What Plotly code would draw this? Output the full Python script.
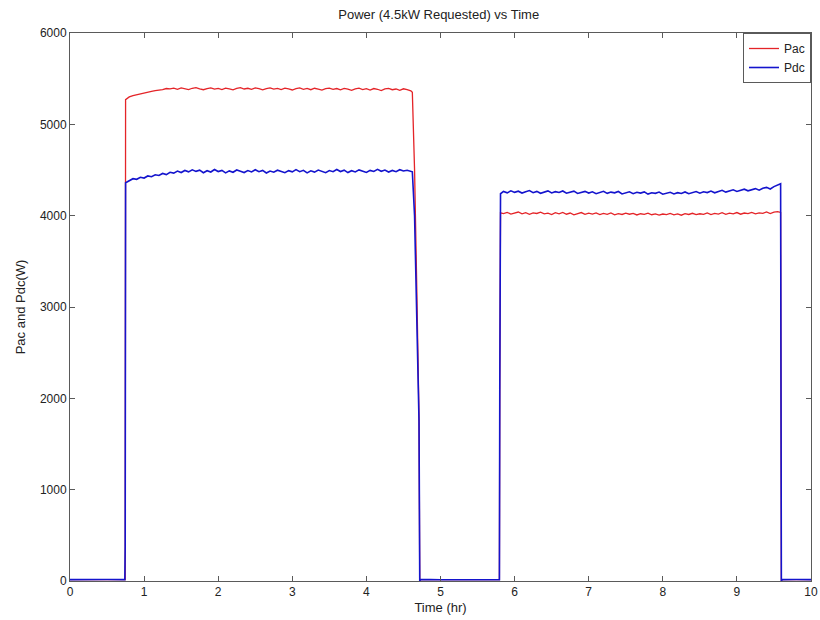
import plotly.graph_objects as go

# --- Time (hr) samples -------------------------------------------------------
t_off1 = [0.0, 0.25, 0.5, 0.74, 0.745]
t_run1 = [0.75, 0.80, 0.85, 0.90, 0.95, 1.00, 1.05, 1.10, 1.15, 1.20, 1.25, 1.30,
          1.35, 1.40, 1.45, 1.50, 1.55, 1.60, 1.65, 1.70, 1.75, 1.80, 1.85, 1.90,
          1.95, 2.00, 2.05, 2.10, 2.15, 2.20, 2.25, 2.30, 2.35, 2.40, 2.45, 2.50,
          2.55, 2.60, 2.65, 2.70, 2.75, 2.80, 2.85, 2.90, 2.95, 3.00, 3.05, 3.10,
          3.15, 3.20, 3.25, 3.30, 3.35, 3.40, 3.45, 3.50, 3.55, 3.60, 3.65, 3.70,
          3.75, 3.80, 3.85, 3.90, 3.95, 4.00, 4.05, 4.10, 4.15, 4.20, 4.25, 4.30,
          4.35, 4.40, 4.45, 4.50, 4.55, 4.60]
t_ramp = [4.62, 4.65, 4.68, 4.71, 4.72]
t_off2 = [4.73, 5.00, 5.30, 5.60, 5.795, 5.80]
t_run2 = [5.81, 5.85, 5.90, 5.95, 6.00, 6.05, 6.10, 6.15, 6.20, 6.25, 6.30, 6.35,
          6.40, 6.45, 6.50, 6.55, 6.60, 6.65, 6.70, 6.75, 6.80, 6.85, 6.90, 6.95,
          7.00, 7.05, 7.10, 7.15, 7.20, 7.25, 7.30, 7.35, 7.40, 7.45, 7.50, 7.55,
          7.60, 7.65, 7.70, 7.75, 7.80, 7.85, 7.90, 7.95, 8.00, 8.05, 8.10, 8.15,
          8.20, 8.25, 8.30, 8.35, 8.40, 8.45, 8.50, 8.55, 8.60, 8.65, 8.70, 8.75,
          8.80, 8.85, 8.90, 8.95, 9.00, 9.05, 9.10, 9.15, 9.20, 9.25, 9.30, 9.35,
          9.40, 9.45, 9.50, 9.55, 9.59]
t_off3 = [9.60, 9.61, 9.80, 10.0]

# --- AC power (W) ------------------------------------------------------------
pac_off1 = [15, 18, 16, 15, 15]
pac_run1 = [5270, 5300, 5315, 5325, 5338, 5345, 5352, 5360, 5368, 5372, 5380, 5392,
            5388, 5396, 5384, 5398, 5390, 5380, 5395, 5402, 5388, 5379, 5392, 5400,
            5386, 5394, 5381, 5397, 5389, 5378, 5393, 5401, 5387, 5395, 5383, 5398,
            5390, 5377, 5392, 5399, 5385, 5394, 5380, 5396, 5388, 5376, 5391, 5399,
            5384, 5393, 5379, 5395, 5386, 5374, 5390, 5397, 5383, 5392, 5378, 5394,
            5385, 5372, 5389, 5396, 5381, 5390, 5376, 5392, 5384, 5370, 5388, 5394,
            5379, 5387, 5373, 5389, 5380, 5366]
pac_ramp = [5350, 4500, 3200, 1800, 0]
pac_off2 = [18, 14, 17, 15, 15, 2100]
pac_run2 = [4030, 4022, 4035, 4018, 4028, 4040, 4020, 4032, 4015, 4030, 4024, 4038,
            4019, 4027, 4012, 4033, 4021, 4036, 4016, 4029, 4010, 4025, 4034, 4014,
            4027, 4018, 4031, 4011, 4024, 4015, 4030, 4009, 4022, 4013, 4028, 4016,
            4025, 4008, 4021, 4014, 4027, 4010, 4020, 4006, 4018, 4012, 4024, 4009,
            4019, 4005, 4022, 4013, 4026, 4011, 4021, 4015, 4030, 4012, 4024, 4018,
            4032, 4014, 4027, 4020, 4034, 4016, 4029, 4022, 4036, 4019, 4031, 4025,
            4040, 4023, 4038, 4044, 4035]
pac_off3 = [0, 15, 16, 15]

# --- DC power (W) ------------------------------------------------------------
pdc_off1 = [15, 18, 16, 15, 380]
pdc_run1 = [4360, 4385, 4405, 4398, 4420, 4412, 4435, 4426, 4448, 4440, 4462, 4450,
            4475, 4466, 4488, 4472, 4495, 4480, 4502, 4485, 4498, 4470, 4492, 4478,
            4505, 4483, 4496, 4468, 4490, 4475, 4500, 4486, 4472, 4494, 4479, 4503,
            4481, 4495, 4467, 4489, 4476, 4498, 4484, 4470, 4493, 4480, 4504, 4482,
            4497, 4469, 4491, 4477, 4499, 4485, 4471, 4494, 4481, 4506, 4483, 4498,
            4472, 4492, 4479, 4501, 4487, 4473, 4496, 4484, 4507, 4486, 4499, 4478,
            4495, 4482, 4503, 4489, 4497, 4485]
pdc_ramp = [4480, 4000, 3000, 1750, 0]
pdc_off2 = [18, 14, 17, 15, 15, 2100]
pdc_run2 = [4240, 4265, 4250, 4272, 4255, 4268, 4248, 4262, 4275, 4252, 4266, 4245,
            4260, 4271, 4249, 4263, 4254, 4270, 4246, 4259, 4268, 4243, 4257, 4266,
            4248, 4261, 4240, 4256, 4267, 4244, 4258, 4250, 4265, 4238, 4254, 4262,
            4241, 4256, 4247, 4260, 4236, 4251, 4244, 4258, 4235, 4249, 4256, 4238,
            4252, 4243, 4260, 4240, 4255, 4264, 4246, 4262, 4253, 4270, 4250, 4266,
            4278, 4258, 4274, 4283, 4265, 4281, 4290, 4272, 4288, 4296, 4279, 4300,
            4310, 4292, 4318, 4335, 4350]
pdc_off3 = [0, 15, 16, 15]

time_hr = t_off1 + t_run1 + t_ramp + t_off2 + t_run2 + t_off3
pac = pac_off1 + pac_run1 + pac_ramp + pac_off2 + pac_run2 + pac_off3
pdc = pdc_off1 + pdc_run1 + pdc_ramp + pdc_off2 + pdc_run2 + pdc_off3

x_ticks = [0, 1, 2, 3, 4, 5, 6, 7, 8, 9, 10]
y_ticks = [0, 1000, 2000, 3000, 4000, 5000, 6000]

FONT = "Liberation Sans, Arial, sans-serif"
AXIS_COLOR = "#5a5a5a"

fig = go.Figure()
fig.add_trace(go.Scatter(x=time_hr, y=pac, mode="lines", name="Pac",
                         line=dict(color="rgb(228,36,40)", width=1.3)))
fig.add_trace(go.Scatter(x=time_hr, y=pdc, mode="lines", name="Pdc",
                         line=dict(color="rgb(20,20,205)", width=1.6)))

axis_common = dict(
    showline=True, linecolor=AXIS_COLOR, linewidth=1, mirror="ticks",
    ticks="inside", ticklen=5, tickcolor=AXIS_COLOR, tickwidth=1,
    showgrid=False, zeroline=False, automargin=False,
    tickfont=dict(family=FONT, size=12, color="#222"),
)

fig.update_layout(
    width=820, height=620,
    margin=dict(l=70, r=9, t=33, b=39),
    paper_bgcolor="white", plot_bgcolor="white",
    title=dict(text="Power (4.5kW Requested) vs Time", x=0.535, xanchor="center",
               y=0.977, yanchor="middle",
               font=dict(family=FONT, size=13, color="#222")),
    xaxis=dict(range=[0, 10], tickvals=x_ticks,
               title=dict(text="Time (hr)", standoff=4,
                          font=dict(family=FONT, size=13, color="#222")),
               **axis_common),
    yaxis=dict(range=[0, 6000], tickvals=y_ticks,
               title=dict(text="Pac and Pdc(W)", standoff=11,
                          font=dict(family=FONT, size=13, color="#222")),
               **axis_common),
    legend=dict(x=1, y=1, xanchor="right", yanchor="top",
                bgcolor="white", bordercolor=AXIS_COLOR, borderwidth=1,
                font=dict(family=FONT, size=12, color="#222"),
                itemwidth=30, tracegroupgap=0),
    showlegend=True,
)

fig.write_html("out.html")
